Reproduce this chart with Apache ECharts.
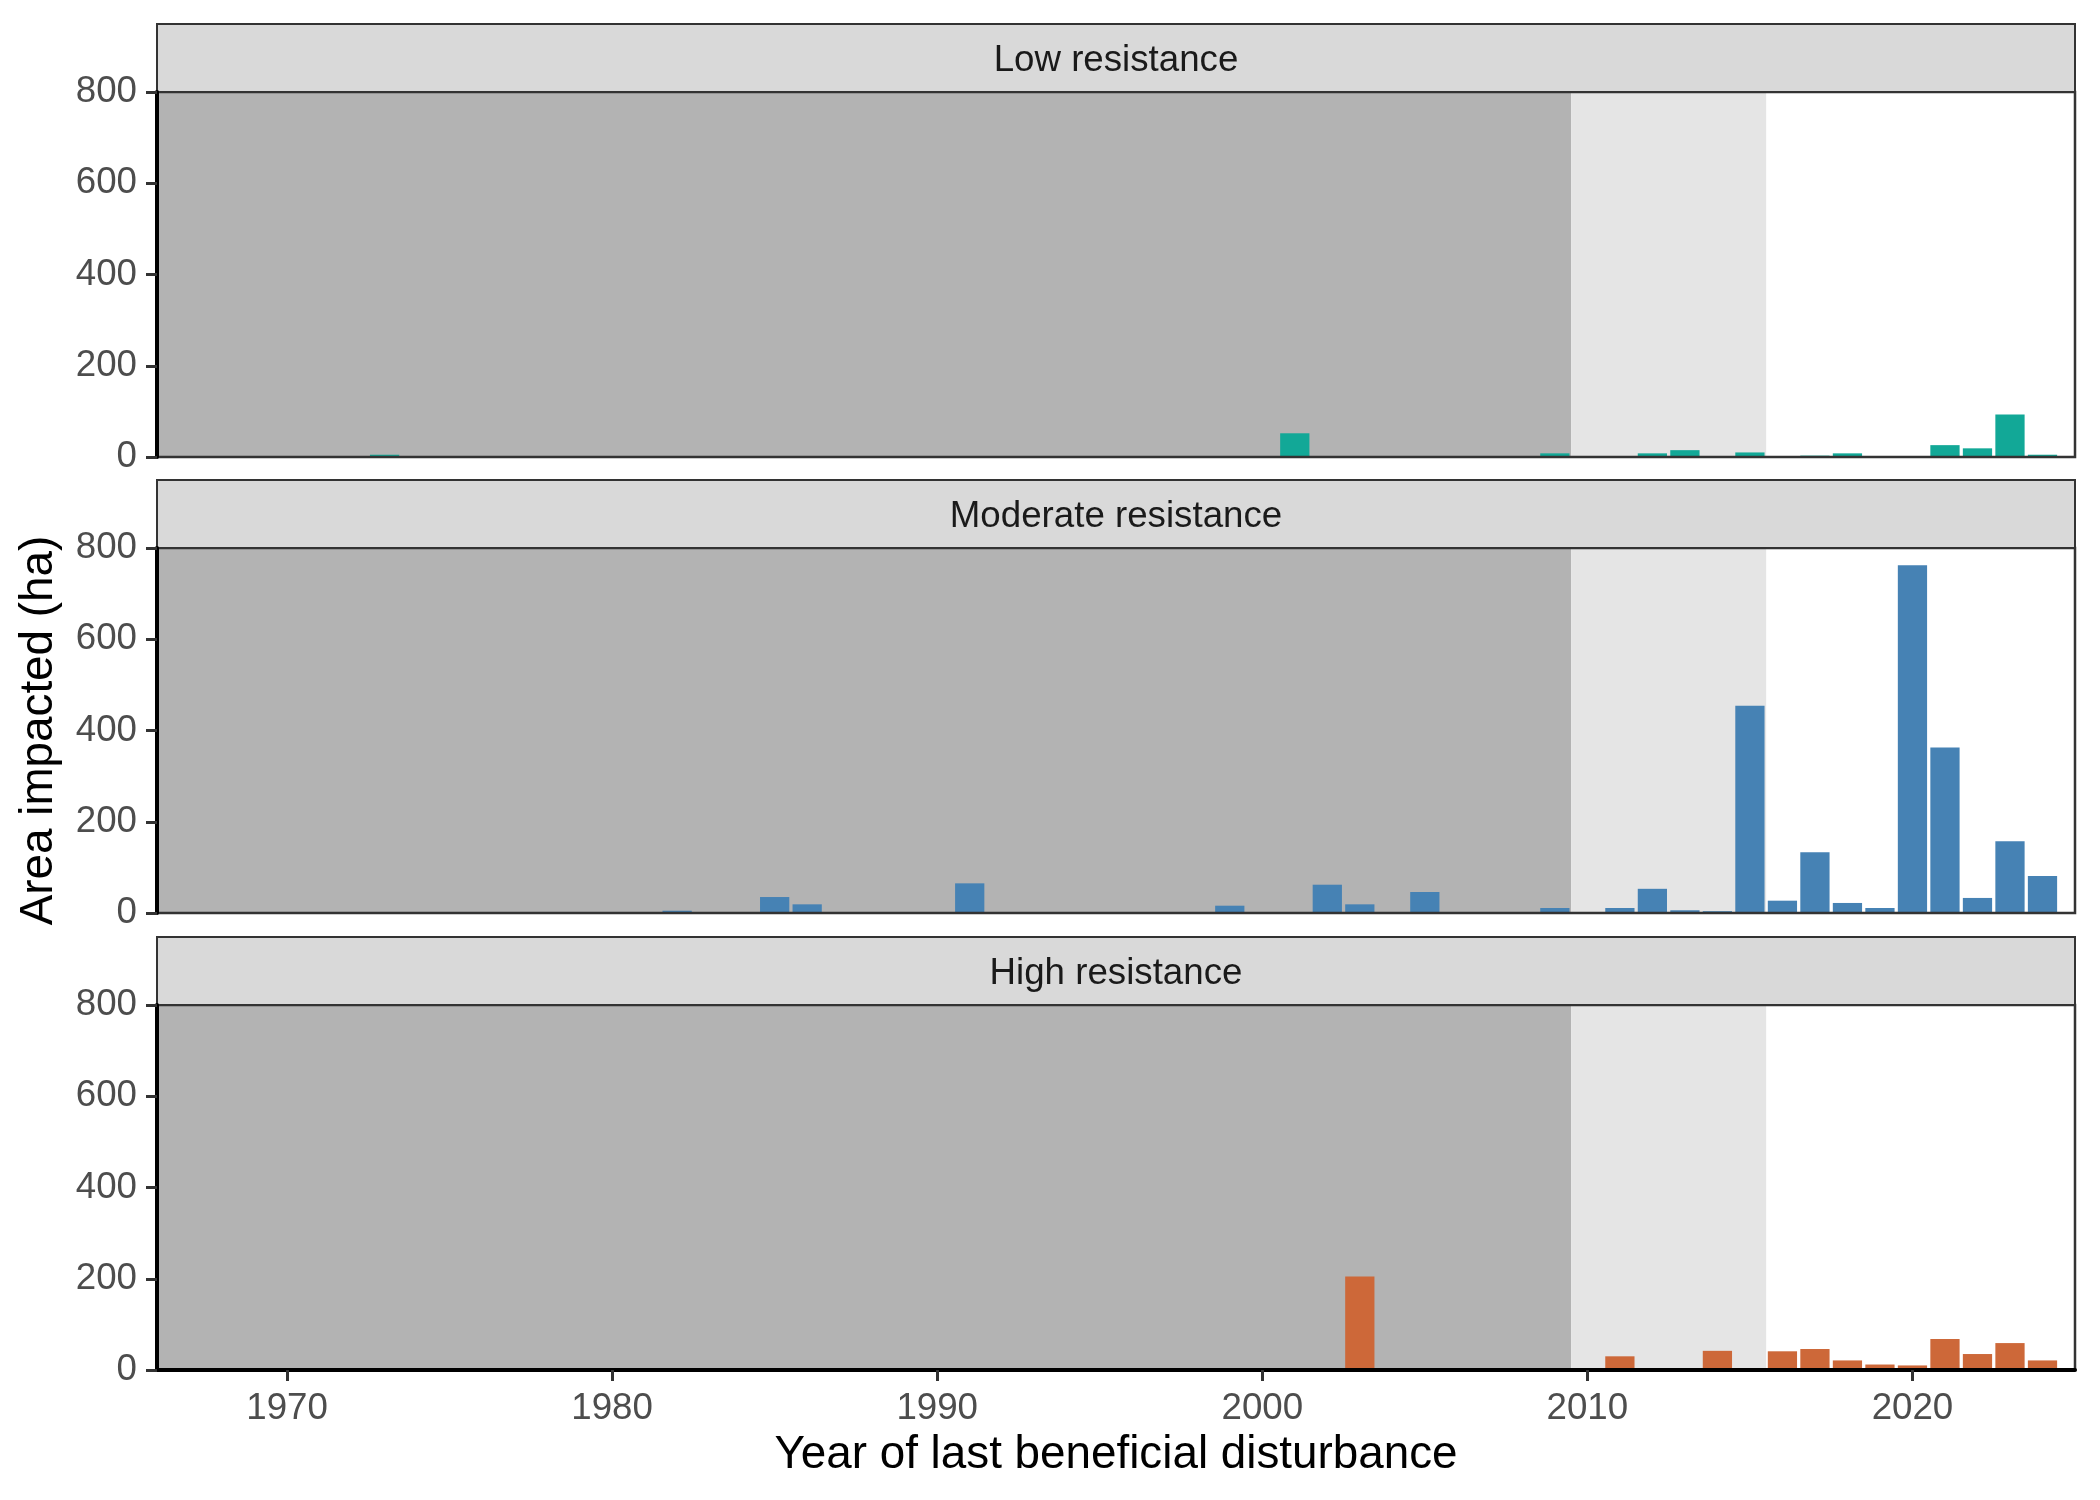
<!DOCTYPE html>
<html>
<head>
<meta charset="utf-8">
<script src="https://cdn.jsdelivr.net/npm/echarts@6/dist/echarts.min.js"></script>
<style>
  html, body { margin: 0; padding: 0; background: #fff; }
  #chart { width: 2100px; height: 1500px; }
</style>
</head>
<body>
<div id="chart"></div>
<script>
// panel titles, top to bottom
var panelNames = ['Low resistance', 'Moderate resistance', 'High resistance'];
var barColors = ['#12a897', '#4682b4', '#cd6839'];

// area impacted (ha) by year of last beneficial disturbance
var lowYears = [1973, 1989, 2001, 2009, 2012, 2013, 2015, 2017, 2018, 2021, 2022, 2023, 2024];
var lowArea  = [5, 2, 52, 8, 8, 15, 10, 3, 8, 26, 19, 93, 5];

var modYears = [1982, 1985, 1986, 1991, 1996, 1999, 2002, 2003, 2005, 2008, 2009, 2011, 2012,
                2013, 2014, 2015, 2016, 2017, 2018, 2019, 2020, 2021, 2022, 2023, 2024];
var modArea  = [5, 35, 19, 65, 2, 16, 62, 19, 46, 2, 11, 11, 53,
                6, 4, 454, 27, 133, 22, 11, 762, 363, 33, 157, 81];

var highYears = [2003, 2008, 2011, 2014, 2016, 2017, 2018, 2019, 2020, 2021, 2022, 2023, 2024];
var highArea  = [205, 4, 30, 42, 41, 46, 21, 12, 10, 68, 35, 59, 21];

// shaded periods behind the bars
var periodStart = [1966, 2009.5];
var periodEnd   = [2009.5, 2015.5];
var periodFill  = ['#b3b3b3', '#e5e5e5'];

var xTicks = [1970, 1980, 1990, 2000, 2010, 2020];
var xMin = 1966, xMax = 2025;
var yMin = 0, yMax = 800, yStep = 200;

var allYears = [lowYears, modYears, highYears];
var allArea = [lowArea, modArea, highArea];

var FONT = 'Liberation Sans';
var L = 157, W = 1918;
var panelTop = [92, 548, 1005];
var panelH = 365;
var stripH = 68;

var chart = echarts.init(document.getElementById('chart'), null, { renderer: 'canvas' });

var grids = [], xAxes = [], yAxes = [], series = [], graphics = [];

panelNames.forEach(function (name, i) {
    var last = i === panelNames.length - 1;
    grids.push({ left: L, width: W, top: panelTop[i], height: panelH, containLabel: false });
    xAxes.push({
        type: 'value', gridIndex: i, min: xMin, max: xMax, z: 30,
        splitLine: { show: false },
        axisLine: { show: last, onZero: false, lineStyle: { color: '#000', width: 4 } },
        axisTick: { show: last, length: 11, customValues: xTicks, lineStyle: { color: '#333', width: 3 } },
        axisLabel: { show: last, customValues: xTicks, margin: 20, color: '#4d4d4d', fontSize: 36.7, fontFamily: FONT,
                     formatter: function (v) { return String(v); } },
        name: last ? 'Year of last beneficial disturbance' : '',
        nameLocation: 'middle', nameGap: 62,
        nameTextStyle: { color: '#000', fontSize: 45.8, fontFamily: FONT }
    });
    yAxes.push({
        type: 'value', gridIndex: i, min: yMin, max: yMax, interval: yStep, z: 30,
        splitLine: { show: false },
        axisLine: { show: true, lineStyle: { color: '#000', width: 4 } },
        axisTick: { show: true, length: 11, lineStyle: { color: '#333', width: 3 } },
        axisLabel: { margin: 20, color: '#4d4d4d', fontSize: 36.7, fontFamily: FONT },
        name: i === 1 ? 'Area impacted (ha)' : '',
        nameLocation: 'middle', nameGap: 95, nameRotate: 90,
        nameTextStyle: { color: '#000', fontSize: 45.8, fontFamily: FONT }
    });

    // background periods
    series.push({
        type: 'custom', xAxisIndex: i, yAxisIndex: i, z: 1, clip: true, silent: true,
        data: periodStart.map(function (s, k) { return [s, periodEnd[k], k]; }),
        renderItem: function (params, api) {
            var a = api.coord([api.value(0), yMax]);
            var b = api.coord([api.value(1), yMin]);
            return { type: 'rect', shape: { x: a[0], y: a[1], width: b[0] - a[0], height: b[1] - a[1] },
                     style: { fill: periodFill[api.value(2)] } };
        }
    });

    // bars, width 0.9 year
    series.push({
        type: 'custom', xAxisIndex: i, yAxisIndex: i, z: 2, clip: true,
        data: allYears[i].map(function (y, k) { return [y, allArea[i][k]]; }),
        renderItem: function (params, api) {
            var a = api.coord([api.value(0) - 0.45, api.value(1)]);
            var b = api.coord([api.value(0) + 0.45, 0]);
            return { type: 'rect', shape: { x: a[0], y: a[1], width: b[0] - a[0], height: b[1] - a[1] },
                     style: { fill: barColors[i] } };
        }
    });

    // strip
    graphics.push({
        type: 'rect', z: 20,
        shape: { x: L, y: panelTop[i] - stripH, width: W, height: stripH },
        style: { fill: '#d9d9d9', stroke: '#333', lineWidth: 2 }
    });
    graphics.push({
        type: 'text', z: 21, x: L + W / 2, y: panelTop[i] - stripH / 2 + 3,
        style: { text: name, fill: '#1a1a1a', fontSize: 36.7, fontFamily: FONT, align: 'center', verticalAlign: 'middle' }
    });
    // panel border
    graphics.push({
        type: 'rect', z: 19,
        shape: { x: L, y: panelTop[i], width: W, height: panelH },
        style: { fill: null, stroke: '#333', lineWidth: 2.5 }
    });
});

chart.setOption({
    backgroundColor: '#fff',
    animation: false,
    grid: grids,
    xAxis: xAxes,
    yAxis: yAxes,
    series: series,
    graphic: graphics
});
</script>
</body>
</html>
